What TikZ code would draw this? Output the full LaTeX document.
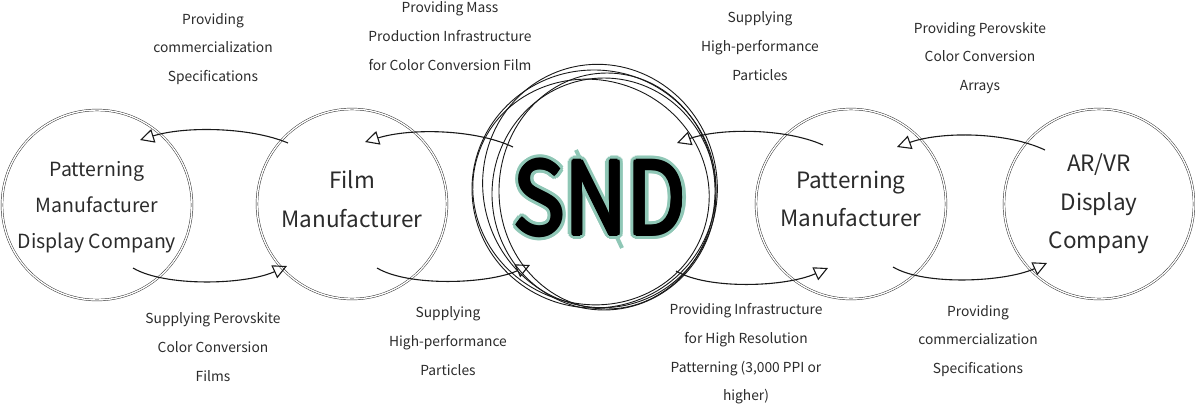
\documentclass[tikz,border=0pt]{standalone}
\usepackage{fontspec}
\setmainfont{Noto Sans CJK KR}
\usetikzlibrary{arrows.meta}
\definecolor{tealA}{HTML}{8FC7B6}
\definecolor{txt}{HTML}{2B2B2B}
\newcommand{\sndword}{\scalebox{0.86}[1]{SND}}
\begin{document}
\begin{tikzpicture}[x=1pt,y=-1pt,
  org/.style={circle, draw=black!85, double=white, double distance=1.4pt, line width=0.45pt,
    minimum size=190pt, inner sep=0pt, align=center, text=txt},
  big/.style={font=\fontsize{22.5}{38.5}\selectfont},
  small/.style={font=\fontsize{19.5}{36}\selectfont},
  lbl/.style={align=center, text=txt, font=\fontsize{13.8}{28.6}\selectfont, inner sep=0pt},
  flow/.style={line width=1.1pt, draw=black!90,
    -{Triangle[open, length=14pt, width=14pt, line width=1.1pt]}},
  sk/.style={draw=black!90, line width=0.9pt},
  sndfont/.style={inner sep=0pt, font=\fontsize{100}{100}\selectfont},
]
\useasboundingbox (0,0) rectangle (1195,408);

% organisations
\node[org, small, text depth=-3pt] (pm1) at (97,205) {Patterning\\Manufacturer\\Display Company};
\node[org, big, text depth=10pt] (fm) at (352,204) {Film\\Manufacturer};
\node[org, big, text depth=10pt] (pm2) at (851,204) {Patterning\\Manufacturer};
\node[org, big] (ar) at (1099,204) {AR/VR\\Display\\Company};

% SND sketchy circles
\coordinate (sndc) at (598,190);
\draw[sk] (594,189) ellipse [x radius=122, y radius=119];
\draw[sk, rotate around={15:(600,186)}] (600,186) ellipse [x radius=117, y radius=122];
\draw[sk] (604,194) ellipse [x radius=112, y radius=116];
\draw[sk, rotate around={-20:(591,192)}] (591,192) ellipse [x radius=119, y radius=112];
\draw[sk] (607,191) ellipse [x radius=108, y radius=118];

% SND word
\draw[tealA, line width=4pt] (576,150) -- (622,248);
\foreach \a in {0,20,...,340}
  \path (600,198) ++(\a:5) node[sndfont, text=tealA] (sndo\a) {\sndword};
\foreach \a in {0,45,...,315}
  \path (600,198) ++(\a:1.8) node[sndfont, text=black] (sndi\a) {\sndword};
\node[sndfont, text=black] (snd) at (600,198) {\sndword};

% connector end points
\coordinate (t1s) at (288,143); \coordinate (t1e) at (140,140);
\coordinate (t2s) at (513,147); \coordinate (t2e) at (365,142);
\coordinate (t3s) at (823,145); \coordinate (t3e) at (677,143);
\coordinate (t4s) at (1045,150); \coordinate (t4e) at (897,147);
\coordinate (b1s) at (133,268); \coordinate (b1e) at (287,266);
\coordinate (b2s) at (377,268); \coordinate (b2e) at (530,265);
\coordinate (b3s) at (676,271); \coordinate (b3e) at (828,268);
\coordinate (b4s) at (893,267); \coordinate (b4e) at (1047,263);

\draw[flow] (t1s) .. controls (250,127) and (185,126) .. (t1e);
\draw[flow] (t2s) .. controls (475,129) and (410,128) .. (t2e);
\draw[flow] (t3s) .. controls (785,128) and (720,128) .. (t3e);
\draw[flow] (t4s) .. controls (1007,132) and (942,131) .. (t4e);
\draw[flow] (b1s) .. controls (165,287) and (245,285) .. (b1e);
\draw[flow] (b2s) .. controls (409,287) and (488,284) .. (b2e);
\draw[flow] (b3s) .. controls (708,290) and (786,287) .. (b3e);
\draw[flow] (b4s) .. controls (925,286) and (1005,282) .. (b4e);

% labels
\node[lbl] (l1) at (213,49) {Providing\\commercialization\\Specifications};
\node[lbl] (l2) at (450,36) {Providing Mass\\Production Infrastructure\\for Color Conversion Film};
\node[lbl] (l3) at (760,46) {Supplying\\High-performance\\Particles};
\node[lbl] (l4) at (980,58) {Providing Perovskite\\Color Conversion\\Arrays};
\node[lbl] (l5) at (213,347) {Supplying Perovskite\\Color Conversion\\Films};
\node[lbl] (l6) at (448,341) {Supplying\\High-performance\\Particles};
\node[lbl] (l7) at (746,354) {Providing Infrastructure\\for High Resolution\\Patterning (3,000 PPI or\\higher)};
\node[lbl] (l8) at (978,341) {Providing\\commercialization\\Specifications};
\end{tikzpicture}
\end{document}
